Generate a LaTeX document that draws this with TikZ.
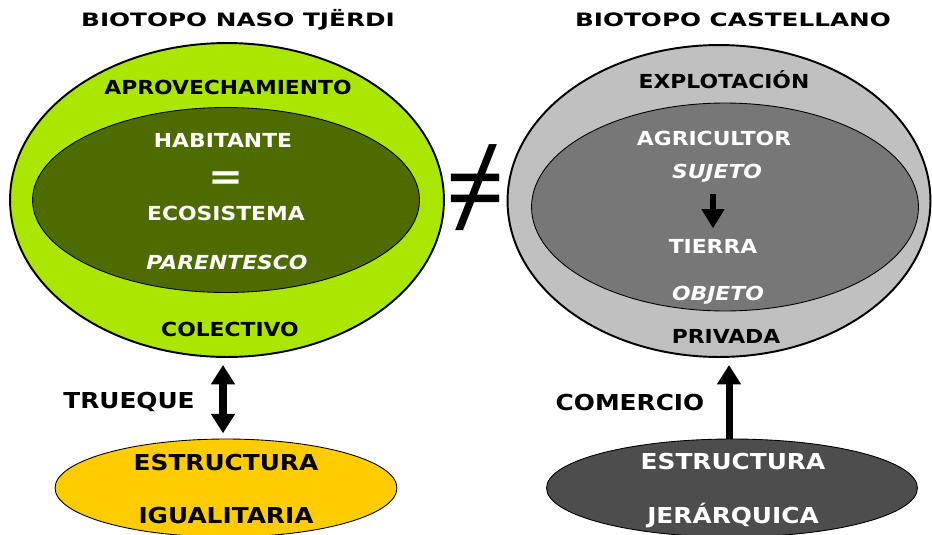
\documentclass[tikz,border=0pt]{standalone}
\usepackage{fontspec}
\setmainfont{DejaVu Sans}[FakeStretch=1.13]
\newfontfamily\titulofont{DejaVu Sans}[FakeStretch=1.34]
\newfontfamily\signofont{Noto Sans}
\usetikzlibrary{shapes.geometric,arrows.meta}

\definecolor{verdeclaro}{RGB}{170,230,0}
\definecolor{verdeosc}{RGB}{78,107,0}
\definecolor{oro}{RGB}{255,204,0}
\definecolor{grisclaro}{RGB}{192,192,192}
\definecolor{grismedio}{RGB}{119,119,119}
\definecolor{grisosc}{RGB}{77,77,77}

\begin{document}
\begin{tikzpicture}[x=0.02cm, y=-0.02cm,
    elipse/.style={ellipse, draw=black, inner sep=0pt},
    titulo/.style={font=\titulofont\bfseries\fontsize{10.5}{12}\selectfont, inner sep=1pt},
    texto/.style={font=\bfseries\fontsize{11}{13}\selectfont, inner sep=1pt},
    cursiva/.style={font=\bfseries\itshape\fontsize{11}{13}\selectfont, inner sep=1pt, text=white},
    grande/.style={font=\bfseries\fontsize{12.5}{14}\selectfont, inner sep=1pt},
    blanco/.style={texto, text=white},
    flecha/.style={line width=4pt, -{Triangle[width=13pt, length=11pt]}}]
    \useasboundingbox (0,0) rectangle (932,534);

    % Biotopo Naso Tjerdi
    \node[elipse, line width=1.1pt, fill=verdeclaro, minimum width=8.68cm, minimum height=6.28cm] (bioL) at (227,200) {};
    \node[elipse, line width=0.5pt, fill=verdeosc, minimum width=7.74cm, minimum height=3.70cm] (nucL) at (226,200) {};
    \node[titulo] (titL) at (238,20) {BIOTOPO NASO TJËRDI};
    \node[texto] (aprov) at (228,87) {APROVECHAMIENTO};
    \node[blanco] (habit) at (223,140) {HABITANTE};
    \node[blanco, font=\bfseries\fontsize{21}{21}\selectfont] (igual) at (226,181) {=};
    \node[blanco] (ecosis) at (226,213) {ECOSISTEMA};
    \node[cursiva] (paren) at (227,262) {PARENTESCO};
    \node[texto] (colec) at (230,329) {COLECTIVO};

    % Biotopo Castellano
    \node[elipse, line width=1.1pt, fill=grisclaro, minimum width=8.46cm, minimum height=6.24cm] (bioR) at (719,201) {};
    \node[elipse, line width=0.5pt, fill=grismedio, minimum width=7.74cm, minimum height=4.16cm] (nucR) at (725,207) {};
    \node[titulo] (titR) at (733,20) {BIOTOPO CASTELLANO};
    \node[texto] (explo) at (724,80) {EXPLOTACIÓN};
    \node[blanco] (agri) at (714,138) {AGRICULTOR};
    \node[cursiva] (sujeto) at (717,173) {SUJETO};
    \node[blanco] (tierra) at (713,246) {TIERRA};
    \node[cursiva] (objeto) at (718,295) {OBJETO};
    \node[texto] (priv) at (726,336) {PRIVADA};
    \draw[line width=3pt, -{Triangle[width=12.5pt, length=11pt]}, shorten <=0.2cm, shorten >=0.17cm] (tierra.north |- sujeto.south) -- (tierra.north);

    % distinto
    \node[font=\signofont\fontsize{60}{60}\selectfont] (distinto) at (476,188) {≠};

    % Estructuras
    \node[elipse, line width=0.5pt, fill=oro, minimum width=6.84cm, minimum height=1.96cm] (estL) at (226,488) {};
    \node[grande] at (226,462) {ESTRUCTURA};
    \node[grande] at (226,515) {IGUALITARIA};
    \node[elipse, line width=0.5pt, fill=grisosc, minimum width=7.42cm, minimum height=1.96cm] (estR) at (732,488) {};
    \node[grande, text=white] at (733,461) {ESTRUCTURA};
    \node[grande, text=white] at (733,516) {JERÁRQUICA};

    % Flechas
    \draw[flecha, {Triangle[width=13pt, length=11pt]}-{Triangle[width=13pt, length=11pt]}, shorten <=3pt, shorten >=4pt] ([xshift=-0.06cm]estL.north) -- ([xshift=-0.06cm]estL.north |- bioL.south);
    \node[grande] (trueque) at (129,402) {TRUEQUE};
    \draw[flecha, shorten >=4pt] ([xshift=-0.06cm]estR.north) -- ([xshift=-0.06cm]estR.north |- bioR.south);
    \node[grande] (comercio) at (630,402) {COMERCIO};
\end{tikzpicture}
\end{document}
